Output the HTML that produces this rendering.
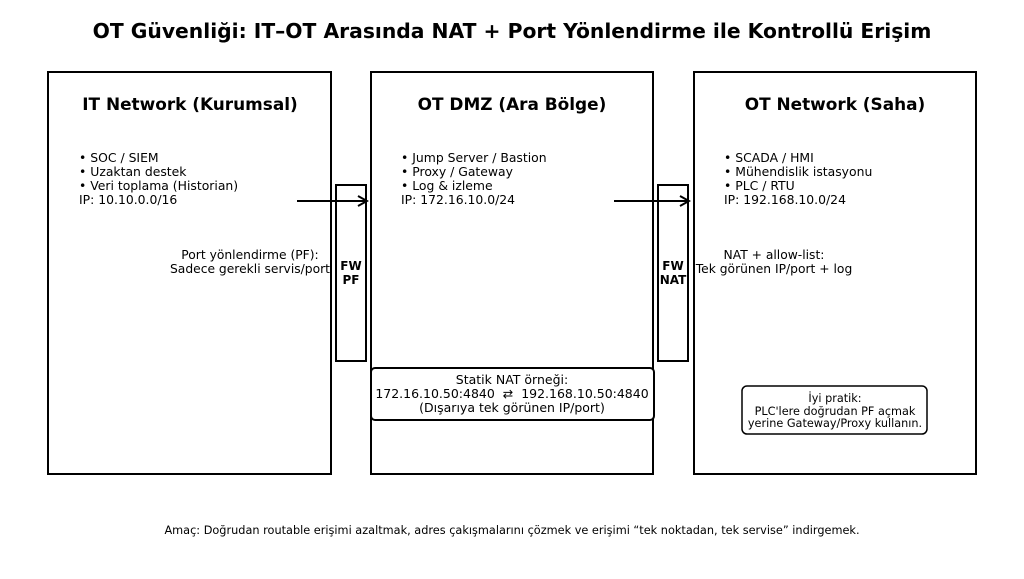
<!DOCTYPE html>
<html><head><meta charset="utf-8"><style>
html,body{margin:0;padding:0;background:#fff;}
svg{display:block;font-family:"DejaVu Sans","Liberation Sans",sans-serif;}
</style></head><body>
<svg width="1024" height="579" viewBox="0 0 1024 579" xmlns="http://www.w3.org/2000/svg">
<defs><marker id="a" markerWidth="12" markerHeight="12" refX="10" refY="6" orient="auto" markerUnits="userSpaceOnUse"><path d="M1,1 L10,6 L1,11" fill="none" stroke="#000" stroke-width="2"/></marker></defs>
<text x="512" y="38" text-anchor="middle" font-size="20.3" font-weight="bold">OT Güvenliği: IT–OT Arasında NAT + Port Yönlendirme ile Kontrollü Erişim</text>
<g fill="none" stroke="#000" stroke-width="2">
<rect x="48" y="72" width="283" height="402"/>
<rect x="371" y="72" width="282" height="402"/>
<rect x="694" y="72" width="282" height="402"/>
<rect x="336" y="185" width="30" height="176"/>
<rect x="658" y="185" width="30" height="176"/>
</g>
<g font-size="16.9" font-weight="bold" text-anchor="middle">
<text x="190" y="110">IT Network (Kurumsal)</text>
<text x="512" y="110">OT DMZ (Ara Bölge)</text>
<text x="835" y="110">OT Network (Saha)</text>
</g>
<g font-size="12.4">
<text x="79" y="162">• SOC / SIEM</text><text x="79" y="176">• Uzaktan destek</text><text x="79" y="190">• Veri toplama (Historian)</text><text x="79" y="204">IP: 10.10.0.0/16</text>
<text x="401" y="162">• Jump Server / Bastion</text><text x="401" y="176">• Proxy / Gateway</text><text x="401" y="190">• Log &amp; izleme</text><text x="401" y="204">IP: 172.16.10.0/24</text>
<text x="724" y="162">• SCADA / HMI</text><text x="724" y="176">• Mühendislik istasyonu</text><text x="724" y="190">• PLC / RTU</text><text x="724" y="204">IP: 192.168.10.0/24</text>
</g>
<g stroke="#000" stroke-width="2">
<line x1="297" y1="201" x2="367" y2="201" marker-end="url(#a)"/>
<line x1="614" y1="201" x2="689" y2="201" marker-end="url(#a)"/>
</g>
<g font-size="12.3" text-anchor="middle">
<text x="250" y="259">Port yönlendirme (PF):</text><text x="250" y="273">Sadece gerekli servis/port</text>
<text x="774" y="259">NAT + allow-list:</text><text x="774" y="273">Tek görünen IP/port + log</text>
</g>
<g font-size="12" font-weight="bold" text-anchor="middle">
<text x="351" y="270">FW</text><text x="351" y="284">PF</text>
<text x="673" y="270">FW</text><text x="673" y="284">NAT</text>
</g>
<rect x="371" y="368" width="283" height="52" rx="4" fill="#fff" stroke="#000" stroke-width="2"/>
<g font-size="12.5" text-anchor="middle">
<text x="512" y="384">Statik NAT örneği:</text>
<text x="512" y="398">172.16.10.50:4840&#160; ⇄ &#160;192.168.10.50:4840</text>
<text x="512" y="412">(Dışarıya tek görünen IP/port)</text>
</g>
<rect x="742" y="386" width="185" height="48" rx="5" fill="#fff" stroke="#000" stroke-width="1.5"/>
<g font-size="11.25" text-anchor="middle">
<text x="835" y="402">İyi pratik:</text>
<text x="835" y="415">PLC'lere doğrudan PF açmak</text>
<text x="835" y="427">yerine Gateway/Proxy kullanın.</text>
</g>
<text x="512" y="534" font-size="11.3" text-anchor="middle">Amaç: Doğrudan routable erişimi azaltmak, adres çakışmalarını çözmek ve erişimi “tek noktadan, tek servise” indirgemek.</text>
</svg>
</body></html>
